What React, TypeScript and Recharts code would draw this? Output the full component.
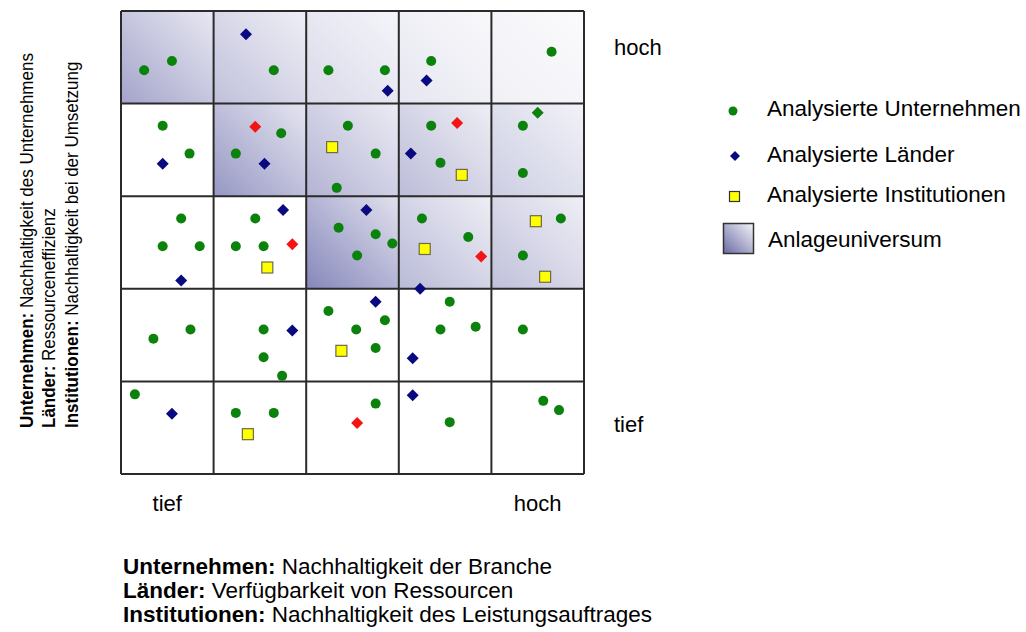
import React from "react";
import { ScatterChart, Scatter, XAxis, YAxis, ReferenceArea, ReferenceLine } from "recharts";

const FONT = '"Liberation Sans", Arial, Helvetica, sans-serif';

// analysierte Unternehmen (green dots), grid units 0..5
const unternehmen = [
  { x: 0.25, y: 4.36 }, { x: 0.55, y: 4.46 }, { x: 1.65, y: 4.36 }, { x: 2.24, y: 4.36 },
  { x: 2.85, y: 4.36 }, { x: 3.35, y: 4.46 }, { x: 4.65, y: 4.56 },
  { x: 0.45, y: 3.76 }, { x: 0.74, y: 3.46 }, { x: 1.73, y: 3.68 }, { x: 1.24, y: 3.46 },
  { x: 2.33, y: 3.09 }, { x: 2.45, y: 3.76 }, { x: 2.75, y: 3.46 }, { x: 3.35, y: 3.76 },
  { x: 3.45, y: 3.36 }, { x: 4.34, y: 3.76 }, { x: 4.34, y: 3.25 },
  { x: 0.65, y: 2.76 }, { x: 0.45, y: 2.46 }, { x: 0.85, y: 2.46 }, { x: 1.45, y: 2.76 },
  { x: 1.24, y: 2.46 }, { x: 1.54, y: 2.46 }, { x: 2.35, y: 2.66 }, { x: 2.75, y: 2.59 },
  { x: 2.93, y: 2.49 }, { x: 2.55, y: 2.36 }, { x: 3.25, y: 2.76 }, { x: 3.75, y: 2.56 },
  { x: 4.75, y: 2.76 }, { x: 4.34, y: 2.36 },
  { x: 0.75, y: 1.56 }, { x: 0.35, y: 1.46 }, { x: 1.54, y: 1.56 }, { x: 1.54, y: 1.26 },
  { x: 1.74, y: 1.06 }, { x: 2.24, y: 1.76 }, { x: 2.54, y: 1.56 }, { x: 2.85, y: 1.66 },
  { x: 2.75, y: 1.36 }, { x: 3.55, y: 1.86 }, { x: 3.45, y: 1.56 }, { x: 3.83, y: 1.59 },
  { x: 4.34, y: 1.56 },
  { x: 0.15, y: 0.86 }, { x: 1.24, y: 0.66 }, { x: 1.65, y: 0.66 }, { x: 2.75, y: 0.76 },
  { x: 3.55, y: 0.56 }, { x: 4.56, y: 0.79 }, { x: 4.73, y: 0.69 },
];

// analysierte Länder (navy diamonds)
const laender = [
  { x: 1.35, y: 4.75 }, { x: 2.88, y: 4.14 }, { x: 3.3, y: 4.25 }, { x: 0.45, y: 3.35 },
  { x: 1.55, y: 3.35 }, { x: 3.13, y: 3.46 }, { x: 0.65, y: 2.09 }, { x: 1.75, y: 2.85 },
  { x: 2.65, y: 2.85 }, { x: 3.23, y: 2.0 }, { x: 1.85, y: 1.55 }, { x: 2.75, y: 1.86 },
  { x: 3.15, y: 1.25 }, { x: 0.55, y: 0.65 }, { x: 3.15, y: 0.85 },
];

// red diamonds
const laenderRot = [
  { x: 1.45, y: 3.75 }, { x: 3.63, y: 3.79 }, { x: 1.85, y: 2.48 }, { x: 3.89, y: 2.35 },
  { x: 2.55, y: 0.55 },
];

// the single green diamond
const laenderGruen = [{ x: 4.5, y: 3.9 }];

// analysierte Institutionen (yellow squares)
const institutionen = [
  { x: 2.28, y: 3.53 }, { x: 3.68, y: 3.23 }, { x: 1.58, y: 2.23 }, { x: 3.28, y: 2.43 },
  { x: 4.48, y: 2.73 }, { x: 4.58, y: 2.13 }, { x: 2.38, y: 1.33 }, { x: 1.37, y: 0.43 },
];

// Anlageuniversum: shaded cells, row counted from bottom
const anlageuniversum = [
  { col: 0, row: 4, level: 0.72 }, { col: 1, row: 4, level: 0.5 }, { col: 2, row: 4, level: 0.3 },
  { col: 3, row: 4, level: 0.2 }, { col: 4, row: 4, level: 0.12 },
  { col: 1, row: 3, level: 0.82 }, { col: 2, row: 3, level: 0.6 }, { col: 3, row: 3, level: 0.53 },
  { col: 4, row: 3, level: 0.4 },
  { col: 2, row: 2, level: 0.95 }, { col: 3, row: 2, level: 0.55 }, { col: 4, row: 2, level: 0.5 },
];

const gridLines = [0, 1, 2, 3, 4, 5];
const xTicks = [0.5, 4.5];
const xTickLabels = ["tief", "hoch"];
const yTicks = [0.54, 4.61];
const yTickLabels = ["tief", "hoch"];

const legendItems = [
  "Analysierte Unternehmen",
  "Analysierte Länder",
  "Analysierte Institutionen",
  "Anlageuniversum",
];

const base = [128, 129, 183];
const tint = (level: number) => {
  const c = base.map((b) => Math.round(255 - (255 - b) * level));
  return `rgb(${c[0]},${c[1]},${c[2]})`;
};

const circleShape = (fill: string) => (p: any) => (
  <circle cx={p.cx} cy={p.cy} r={5} fill={fill} />
);
const diamondShape = (fill: string) => (p: any) => (
  <path
    d={`M${p.cx},${p.cy - 6}L${p.cx + 6},${p.cy}L${p.cx},${p.cy + 6}L${p.cx - 6},${p.cy}Z`}
    fill={fill}
  />
);
const squareShape = (p: any) => (
  <rect x={p.cx - 5.5} y={p.cy - 5.5} width={11} height={11} fill="#ffff00" stroke="#6e6a48" strokeWidth={1.2} />
);

export default function App() {
  const tickStyle = { fill: "#000", fontSize: 22, fontFamily: FONT };

  return (
    <div style={{ position: "absolute", left: 0, top: 0, width: 1026, height: 632, background: "#fff" }}>
      <ScatterChart width={1026} height={632} margin={{ top: 11, left: 121, right: 362, bottom: 128 }}>
        <defs>
          {anlageuniversum.map((c) => (
            <linearGradient key={`g${c.col}${c.row}`} id={`cell-${c.col}-${c.row}`} x1="0" y1="1" x2="1" y2="0">
              <stop offset="0%" stopColor={tint(c.level)} />
              <stop offset="100%" stopColor={tint(c.level * 0.25)} />
            </linearGradient>
          ))}
        </defs>
        <XAxis
          dataKey="x"
          type="number"
          domain={[0, 5]}
          ticks={xTicks}
          interval={0}
          tickFormatter={(v) => xTickLabels[xTicks.indexOf(v)]}
          axisLine={false}
          tickLine={false}
          tick={tickStyle}
          tickMargin={15}
          height={30}
        />
        <YAxis
          dataKey="y"
          type="number"
          orientation="right"
          domain={[0, 5]}
          ticks={yTicks}
          interval={0}
          tickFormatter={(v) => yTickLabels[yTicks.indexOf(v)]}
          axisLine={false}
          tickLine={false}
          tick={tickStyle}
          tickMargin={24}
          width={80}
        />
        {anlageuniversum.map((c) => (
          <ReferenceArea
            key={`a${c.col}${c.row}`}
            x1={c.col}
            x2={c.col + 1}
            y1={c.row}
            y2={c.row + 1}
            fill={`url(#cell-${c.col}-${c.row})`}
            fillOpacity={1}
            stroke="none"
          />
        ))}
        {gridLines.map((v) => (
          <ReferenceLine key={`vx${v}`} x={v} stroke="#2a2a2a" strokeWidth={2} />
        ))}
        {gridLines.map((v) => (
          <ReferenceLine key={`hy${v}`} y={v} stroke="#2a2a2a" strokeWidth={2} />
        ))}
        <Scatter data={unternehmen} shape={circleShape("#0b820b")} isAnimationActive={false} />
        <Scatter data={laender} shape={diamondShape("#0a0a80")} isAnimationActive={false} />
        <Scatter data={laenderRot} shape={diamondShape("#f41414")} isAnimationActive={false} />
        <Scatter data={laenderGruen} shape={diamondShape("#0b820b")} isAnimationActive={false} />
        <Scatter data={institutionen} shape={squareShape} isAnimationActive={false} />
      </ScatterChart>

      <svg
        width={1026}
        height={632}
        style={{ position: "absolute", left: 0, top: 0, pointerEvents: "none" }}
        fontFamily={FONT}
      >
        <defs>
          <linearGradient id="legend-box" x1="0" y1="1" x2="1" y2="0">
            <stop offset="0%" stopColor="#6a6ba4" />
            <stop offset="100%" stopColor="#f4f4f8" />
          </linearGradient>
        </defs>

        {/* legend */}
        <circle cx={733} cy={111} r={4.5} fill="#0b820b" />
        <text x={767} y={116} fontSize={22.5} fill="#000">{legendItems[0]}</text>
        <path d="M735,151L740,156L735,161L730,156Z" fill="#0a0a80" />
        <text x={767} y={162} fontSize={22.5} fill="#000">{legendItems[1]}</text>
        <rect x={729.5} y={191.5} width={10} height={10} fill="#ffff00" stroke="#333" strokeWidth={1.2} />
        <text x={767} y={202} fontSize={22.5} fill="#000">{legendItems[2]}</text>
        <rect x={723.5} y={223.5} width={30} height={30} fill="url(#legend-box)" stroke="#333" strokeWidth={1.5} />
        <text x={768} y={247} fontSize={22.5} fill="#000">{legendItems[3]}</text>

        {/* left axis description */}
        <text transform="translate(33,428) rotate(-90) scale(1,1.1)" fontSize={17} fill="#000">
          <tspan fontWeight="bold">Unternehmen:</tspan>{" Nachhaltigkeit des Unternehmens"}
        </text>
        <text transform="translate(55,428) rotate(-90) scale(1,1.1)" fontSize={17} fill="#000">
          <tspan fontWeight="bold">Länder:</tspan>{" Ressourceneffizienz"}
        </text>
        <text transform="translate(78,428) rotate(-90) scale(1,1.1)" fontSize={17} fill="#000">
          <tspan fontWeight="bold">Institutionen:</tspan>{" Nachhaltigkeit bei der Umsetzung"}
        </text>

        {/* bottom axis description */}
        <text x={123} y={574} fontSize={22.5} fill="#000">
          <tspan fontWeight="bold">Unternehmen:</tspan>{" Nachhaltigkeit der Branche"}
        </text>
        <text x={123} y={598} fontSize={22.5} fill="#000">
          <tspan fontWeight="bold">Länder:</tspan>{" Verfügbarkeit von Ressourcen"}
        </text>
        <text x={123} y={622} fontSize={22.5} fill="#000">
          <tspan fontWeight="bold">Institutionen:</tspan>{" Nachhaltigkeit des Leistungsauftrages"}
        </text>
      </svg>
    </div>
  );
}
